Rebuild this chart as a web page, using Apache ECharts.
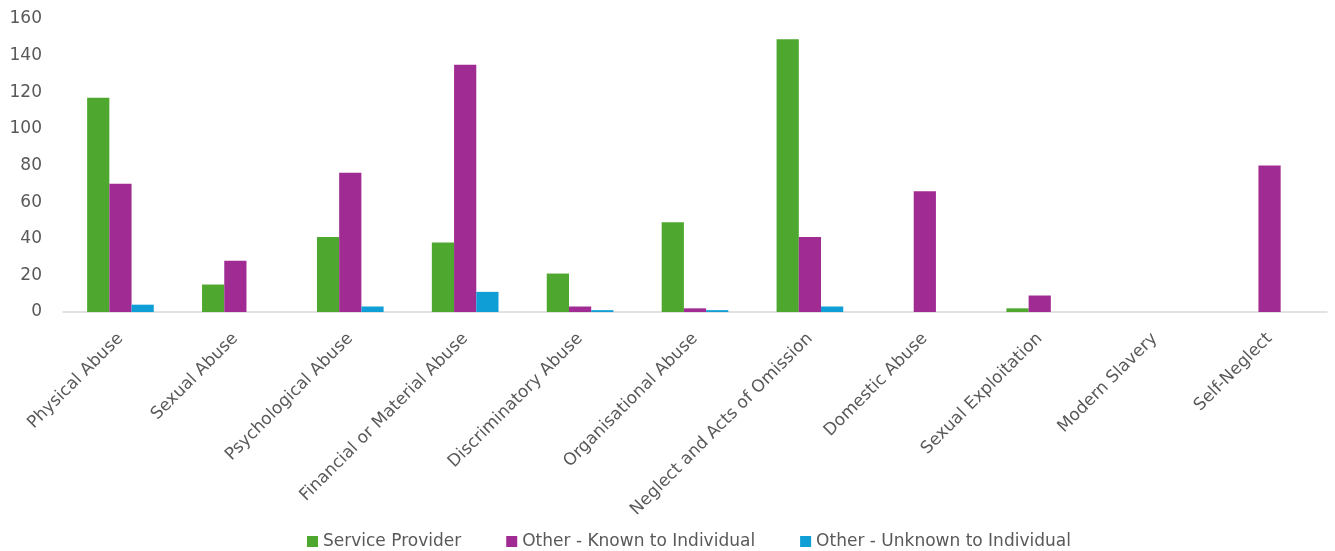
<!DOCTYPE html>
<html>
<head>
<meta charset="utf-8">
<script src="https://cdn.jsdelivr.net/npm/echarts@6/dist/echarts.min.js"></script>
<style>
  html, body { margin: 0; padding: 0; background: #ffffff; }
  #chart { width: 1335px; height: 551px; }
</style>
</head>
<body>
<div id="chart"></div>
<script>
// Abuse types on the category axis
const categories = [
  'Physical Abuse', 'Sexual Abuse', 'Psychological Abuse', 'Financial or Material Abuse',
  'Discriminatory Abuse', 'Organisational Abuse', 'Neglect and Acts of Omission',
  'Domestic Abuse', 'Sexual Exploitation', 'Modern Slavery', 'Self-Neglect'
];

// Counts by source of risk
const serviceProvider  = [117, 15, 41, 38, 21, 49, 149, 0, 2, 0, 0];
const otherKnown       = [70, 28, 76, 135, 3, 2, 41, 66, 9, 0, 80];
const otherUnknown     = [4, 0, 3, 11, 1, 1, 3, 0, 0, 0, 0];

const seriesNames = ['Service Provider', 'Other - Known to Individual', 'Other - Unknown to Individual'];
const seriesColors = ['#4ea72e', '#a02b93', '#0f9ed5'];

// Value axis ticks
const yMin = 0, yMax = 160, yStep = 20;

const textColor = '#595959';
const fontFamily = 'DejaVu Sans, Liberation Sans, sans-serif';

const chart = echarts.init(document.getElementById('chart'), null, { renderer: 'canvas' });

const seriesData = [serviceProvider, otherKnown, otherUnknown];

chart.setOption({
  animation: false,
  backgroundColor: '#ffffff',
  textStyle: { fontFamily: fontFamily },
  grid: { left: 63, right: 8, top: 19, bottom: 239, containLabel: false },
  legend: {
    top: 528,
    left: 302,
    itemWidth: 11,
    itemHeight: 11,
    itemGap: 45,
    icon: 'rect',
    textStyle: { color: textColor, fontSize: 17, fontFamily: fontFamily },
    data: seriesNames
  },
  xAxis: {
    type: 'category',
    data: categories,
    axisLine: { show: true, lineStyle: { color: '#d9d9d9', width: 1.5 } },
    axisTick: { show: false },
    axisLabel: {
      rotate: 45,
      interval: 0,
      margin: 24,
      color: textColor,
      fontSize: 17,
      fontFamily: fontFamily
    },
    splitLine: { show: false }
  },
  yAxis: {
    type: 'value',
    min: yMin,
    max: yMax,
    interval: yStep,
    axisLine: { show: false },
    axisTick: { show: false },
    splitLine: { show: false },
    axisLabel: {
      color: textColor,
      fontSize: 17,
      margin: 21,
      padding: [4, 0, 0, 0],
      fontFamily: fontFamily
    }
  },
  series: seriesNames.map((name, i) => ({
    name: name,
    type: 'bar',
    data: seriesData[i],
    barGap: '0%',
    barCategoryGap: '42%',
    itemStyle: { color: seriesColors[i] }
  }))
});
</script>
</body>
</html>
